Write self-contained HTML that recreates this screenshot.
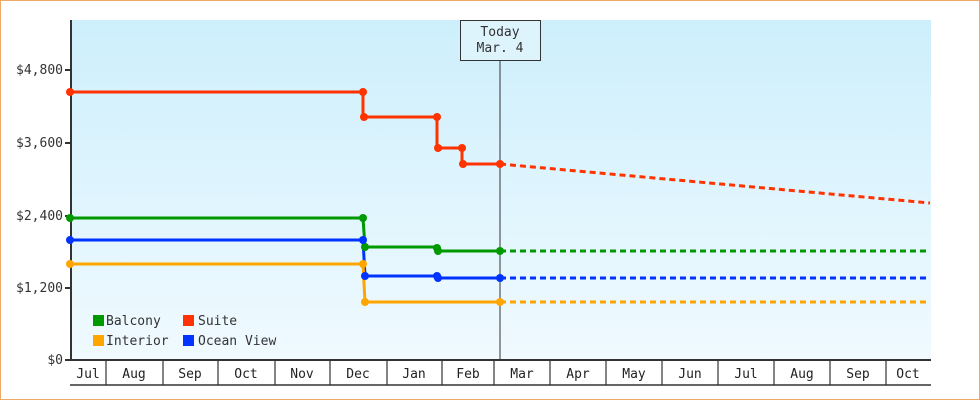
<!DOCTYPE html>
<html><head><meta charset="utf-8"><style>
body{margin:0;background:#fff}
svg{display:block;font-family:"DejaVu Sans Mono","Liberation Mono",monospace;font-size:13px}
</style></head><body>
<svg width="980" height="400" viewBox="0 0 980 400">
<defs><linearGradient id="g" x1="0" y1="0" x2="0" y2="1"><stop offset="0" stop-color="#cdeffc"/><stop offset="1" stop-color="#f0faff"/></linearGradient></defs>
<rect x="0.5" y="0.5" width="979" height="399" fill="#fff" stroke="#eeaa66"/>
<rect x="71" y="20" width="860" height="340" fill="url(#g)"/>
<g fill="#333" text-anchor="end">
<text x="63" y="74">$4,800</text><text x="63" y="147">$3,600</text><text x="63" y="220">$2,400</text><text x="63" y="292">$1,200</text><text x="63" y="364">$0</text>
</g>
<g stroke="#333" stroke-width="2"><line x1="65" y1="70" x2="71" y2="70"/><line x1="65" y1="143" x2="71" y2="143"/><line x1="65" y1="216" x2="71" y2="216"/><line x1="65" y1="288" x2="71" y2="288"/><line x1="65" y1="360" x2="71" y2="360"/></g>
<line x1="71" y1="20" x2="71" y2="361" stroke="#333" stroke-width="2"/>
<line x1="70" y1="360" x2="931" y2="360" stroke="#333" stroke-width="2"/>
<line x1="70" y1="385" x2="931" y2="385" stroke="#333" stroke-width="1.5"/>
<g stroke="#333" stroke-width="1.2">
<line x1="106" y1="360" x2="106" y2="385"/><line x1="163" y1="360" x2="163" y2="385"/><line x1="218" y1="360" x2="218" y2="385"/><line x1="275" y1="360" x2="275" y2="385"/><line x1="330" y1="360" x2="330" y2="385"/><line x1="387" y1="360" x2="387" y2="385"/><line x1="442" y1="360" x2="442" y2="385"/><line x1="494" y1="360" x2="494" y2="385"/><line x1="550" y1="360" x2="550" y2="385"/><line x1="606" y1="360" x2="606" y2="385"/><line x1="662" y1="360" x2="662" y2="385"/><line x1="718" y1="360" x2="718" y2="385"/><line x1="774" y1="360" x2="774" y2="385"/><line x1="830" y1="360" x2="830" y2="385"/><line x1="886" y1="360" x2="886" y2="385"/>
</g>
<g fill="#222" text-anchor="middle">
<text x="88" y="378">Jul</text><text x="134" y="378">Aug</text><text x="190" y="378">Sep</text><text x="246" y="378">Oct</text><text x="302" y="378">Nov</text><text x="358" y="378">Dec</text><text x="414" y="378">Jan</text><text x="468" y="378">Feb</text><text x="522" y="378">Mar</text><text x="578" y="378">Apr</text><text x="634" y="378">May</text><text x="690" y="378">Jun</text><text x="746" y="378">Jul</text><text x="802" y="378">Aug</text><text x="858" y="378">Sep</text><text x="908" y="378">Oct</text>
</g>
<line x1="500" y1="60" x2="500" y2="360" stroke="#333" stroke-width="1"/>
<rect x="460.5" y="20.5" width="80" height="40" fill="#ddf4fd" stroke="#333"/>
<g fill="#333" text-anchor="middle"><text x="500" y="36">Today</text><text x="500" y="52">Mar. 4</text></g>
<g fill="none" stroke-width="3">
<polyline stroke="#ff3300" points="71,92 363,92 363,117 437,117 437,148 462,148 462,164 500,164"/>
<line stroke="#ff3300" x1="500" y1="164" x2="930" y2="203" stroke-dasharray="6,4"/>
<polyline stroke="#009900" points="71,218 363,218 365,247 437,247 437,251 500,251"/>
<line stroke="#009900" x1="500" y1="251" x2="930" y2="251" stroke-dasharray="6,4"/>
<polyline stroke="#0033ff" points="71,240 363,240 365,276 437,276 437,278 500,278"/>
<line stroke="#0033ff" x1="500" y1="278" x2="930" y2="278" stroke-dasharray="6,4"/>
<polyline stroke="#ffa500" points="71,264 363,264 365,302 500,302"/>
<line stroke="#ffa500" x1="500" y1="302" x2="930" y2="302" stroke-dasharray="6,4"/>
</g>
<g>
<g fill="#ff3300"><circle cx="70" cy="92" r="4"/><circle cx="363" cy="92" r="4"/><circle cx="364" cy="117" r="4"/><circle cx="437" cy="117" r="4"/><circle cx="438" cy="148" r="4"/><circle cx="462" cy="148" r="4"/><circle cx="463" cy="164" r="4"/><circle cx="500" cy="164" r="4"/></g>
<g fill="#009900"><circle cx="70" cy="218" r="4"/><circle cx="363" cy="218" r="4"/><circle cx="365" cy="247" r="4"/><circle cx="437" cy="248" r="4"/><circle cx="438" cy="251" r="4"/><circle cx="500" cy="251" r="4"/></g>
<g fill="#0033ff"><circle cx="70" cy="240" r="4"/><circle cx="363" cy="240" r="4"/><circle cx="365" cy="276" r="4"/><circle cx="437" cy="276" r="4"/><circle cx="438" cy="278" r="4"/><circle cx="500" cy="278" r="4"/></g>
<g fill="#ffa500"><circle cx="70" cy="264" r="4"/><circle cx="363" cy="264" r="4"/><circle cx="365" cy="302" r="4"/><circle cx="500" cy="302" r="4"/></g>
</g>
<rect x="93" y="315" width="11" height="11" fill="#009900"/><text x="106" y="325" fill="#333">Balcony</text>
<rect x="183" y="315" width="11" height="11" fill="#ff3300"/><text x="198" y="325" fill="#333">Suite</text>
<rect x="93" y="335" width="11" height="11" fill="#ffa500"/><text x="106" y="345" fill="#333">Interior</text>
<rect x="183" y="335" width="11" height="11" fill="#0033ff"/><text x="198" y="345" fill="#333">Ocean View</text>
</svg>
</body></html>
